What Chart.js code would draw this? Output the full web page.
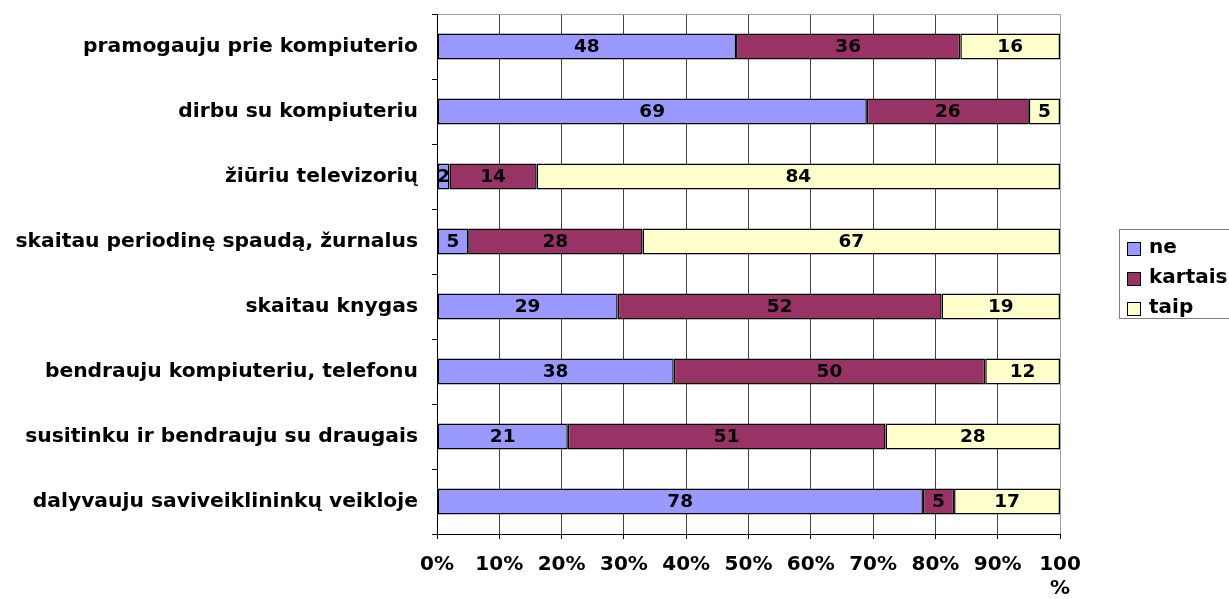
<!DOCTYPE html>
<html>
<head>
<meta charset="utf-8">
<script src="https://cdn.jsdelivr.net/npm/chart.js@4"></script>
<style>
    body { margin: 0; overflow: hidden; background: #fff; }
    #wrap { position: relative; width: 1229px; height: 599px; }
    #legend {
        position: absolute; left: 1119px; top: 229px; width: 130px; height: 88px;
        border: 1px solid #808080; font-family: 'DejaVu Sans'; font-weight: bold; font-size: 20px;
    }
    .item { position: absolute; left: 0; height: 30px; line-height: 30px; }
    .item span.box { position: absolute; left: 7px; top: 11px; width: 12px; height: 12px; border: 1px solid #000; }
    .item span.txt { position: absolute; left: 29px; top: 0; white-space: nowrap; }
</style>
</head>
<body>
<div id="wrap">
    <canvas id="chart"></canvas>
    <div id="legend"></div>
</div>
<script>
const categories = [
    "pramogauju prie kompiuterio",
    "dirbu su kompiuteriu",
    "žiūriu televizorių",
    "skaitau periodinę spaudą, žurnalus",
    "skaitau knygas",
    "bendrauju kompiuteriu, telefonu",
    "susitinku ir bendrauju su draugais",
    "dalyvauju saviveiklininkų veikloje"
];
const seriesNames = ["ne", "kartais", "taip"];
const ne = [48, 69, 2, 5, 29, 38, 21, 78];
const kartais = [36, 26, 14, 28, 52, 50, 51, 5];
const taip = [16, 5, 84, 67, 19, 12, 28, 17];
const xTicks = [0, 10, 20, 30, 40, 50, 60, 70, 80, 90, 100];
const colors = ["#9999FF", "#993366", "#FFFFCC"];

Chart.defaults.font.family = "'DejaVu Sans'";
Chart.defaults.color = "#000";

const valueLabels = {
    id: "valueLabels",
    afterDatasetsDraw(chart) {
        const ctx = chart.ctx;
        ctx.save();
        ctx.font = "bold 18.5px 'DejaVu Sans'";
        ctx.fillStyle = "#000";
        ctx.textAlign = "center";
        ctx.textBaseline = "middle";
        chart.data.datasets.forEach((ds, i) => {
            chart.getDatasetMeta(i).data.forEach((bar, j) => {
                const p = bar.getCenterPoint();
                ctx.fillText(ds.data[j], p.x, p.y + 1);
            });
        });
        ctx.restore();
    }
};

const values = [ne, kartais, taip];

new Chart(document.getElementById("chart"), {
    type: "bar",
    data: {
        labels: categories,
        datasets: seriesNames.map((name, i) => ({
            label: name,
            data: values[i],
            backgroundColor: colors[i],
            borderColor: "#000",
            borderWidth: 1.5,
            borderSkipped: false,
            barPercentage: 0.4,
            categoryPercentage: 1
        }))
    },
    options: {
        indexAxis: "y",
        responsive: true,
        maintainAspectRatio: false,
        animation: false,
        layout: { padding: { top: 14, right: 169, left: 0, bottom: 0 } },
        plugins: {
            legend: { display: false },
            tooltip: { enabled: false }
        },
        scales: {
            x: {
                stacked: true,
                min: 0,
                max: 100,
                afterBuildTicks: (scale) => {
                    scale.ticks = xTicks.map(v => ({ value: v }));
                },
                afterFit: (scale) => { scale.height = 65; },
                ticks: {
                    font: { size: 20, weight: "bold" },
                    padding: 14,
                    maxRotation: 0,
                    autoSkip: false,
                    callback: (v) => v === 100 ? ["100", "%"] : v + "%"
                },
                grid: {
                    color: (c) => c.tick && c.tick.value === 100 ? "#a0a0a0" : "#444",
                    lineWidth: 1,
                    tickLength: 5,
                    tickColor: "#000"
                },
                border: { color: "#000", width: 1 }
            },
            y: {
                stacked: true,
                afterFit: (scale) => {
                    scale.width = 437;
                    scale.paddingTop = 0;
                    scale.paddingBottom = 0;
                },
                ticks: {
                    font: { size: 20.3, weight: "bold" },
                    padding: 14,
                    autoSkip: false
                },
                grid: {
                    offset: true,
                    drawOnChartArea: true,
                    color: (c) => c.index === 0 ? "#a0a0a0" : "rgba(0,0,0,0)",
                    tickColor: "#000",
                    tickLength: 5
                },
                border: { color: "#000", width: 1 }
            }
        }
    },
    plugins: [valueLabels]
});

const legend = document.getElementById("legend");
seriesNames.forEach((name, i) => {
    const item = document.createElement("div");
    item.className = "item";
    item.style.top = (1 + i * 30) + "px";
    item.innerHTML = '<span class="box" style="background:' + colors[i] + '"></span><span class="txt">' + name + '</span>';
    legend.appendChild(item);
});
</script>
</body>
</html>
